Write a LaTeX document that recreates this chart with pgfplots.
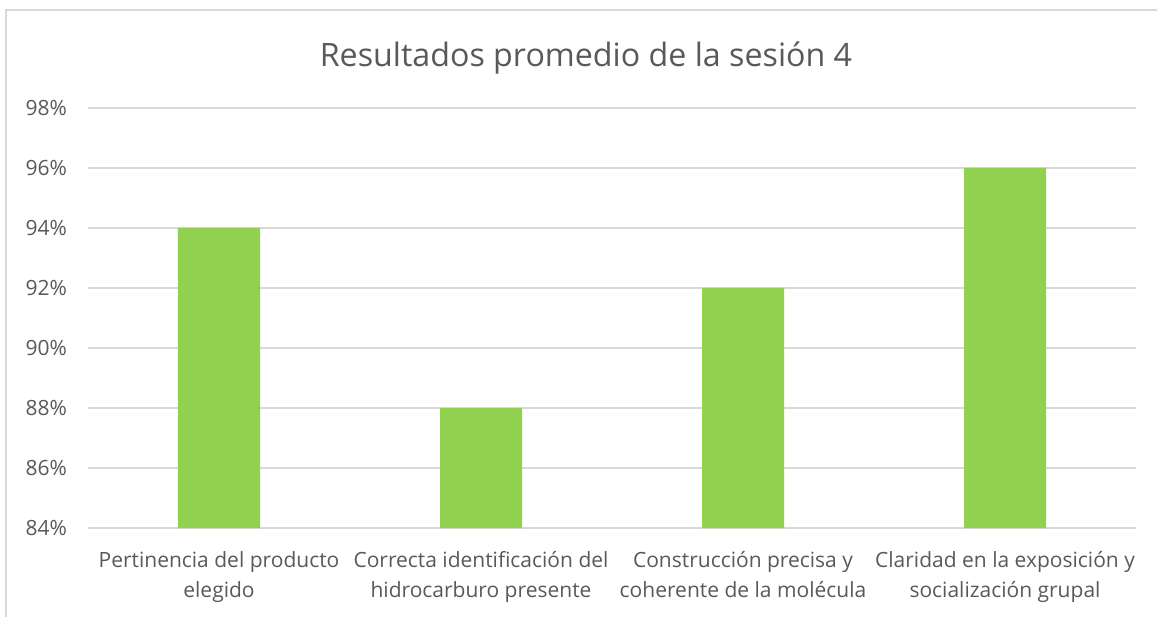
\documentclass[border=0pt]{standalone}
\usepackage{fontspec}
\setmainfont{Open Sans}
\usepackage{pgfplots}
\pgfplotsset{compat=1.18}
\definecolor{txt}{HTML}{595959}
\definecolor{grid}{HTML}{D9D9D9}
\definecolor{bar}{HTML}{92D050}
\begin{document}
\begin{tikzpicture}
\useasboundingbox (0,0) rectangle (578.5pt,308pt);
\clip (0,0) rectangle (578.5pt,308pt);
\draw[grid, line width=1pt] (3pt,-10pt) rectangle (590pt,303pt);
\node[text=txt, font=\fontsize{16.1}{19}\selectfont] at (293pt,279pt) {Resultados promedio de la sesión 4};
\begin{axis}[at={(44pt,44pt)}, anchor=south west,
  scale only axis, width=524pt, height=210pt,
  ybar, bar width=41pt, bar shift=0pt,
  xmin=-0.5, xmax=3.5, ymin=84, ymax=98,
  ytick={84,86,...,98}, yticklabel={\pgfmathprintnumber{\tick}\%},
  xtick=data,
  xticklabels={{Pertinencia del producto\\elegido},{Correcta identificación del\\hidrocarburo presente},{Construcción precisa y\\coherente de la molécula},{Claridad en la exposición y\\socialización grupal}},
  xticklabel style={align=center, font=\fontsize{10.5}{15}\selectfont, text=txt, yshift=-4pt},
  yticklabel style={font=\fontsize{10.5}{12}\selectfont, text=txt, xshift=-7pt},
  /pgf/number format/assume math mode=true,
  axis line style={draw=none}, tick style={draw=none},
  ymajorgrids, grid style={draw=grid, line width=0.75pt},
]
\addplot[fill=bar, draw=none] coordinates {(0,94) (1,88) (2,92) (3,96)};
\end{axis}
\end{tikzpicture}
\end{document}
